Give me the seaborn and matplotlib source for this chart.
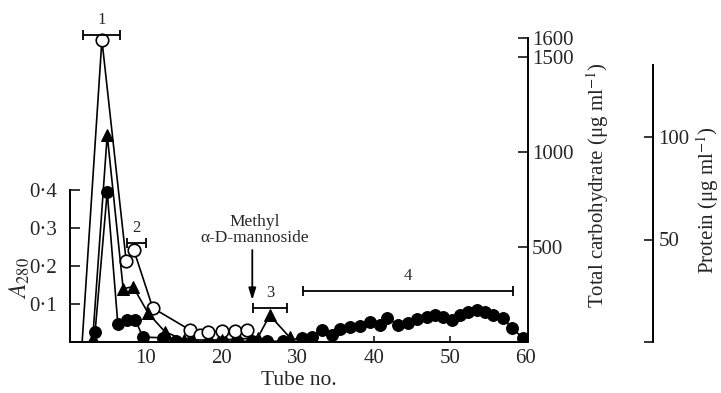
import matplotlib
matplotlib.use('Agg')
import matplotlib.pyplot as plt
import seaborn as sns
import pandas as pd

# ---------------- data ----------------
carb_tube = [1.6, 4.2, 7.4, 8.4, 10.9, 15.8, 17.1, 18.2, 20.0, 21.7, 23.3]
carb_val = [0, 1590, 426, 484, 179, 63, 37, 53, 58, 58, 63]

prot_tube = [3.0, 4.9, 7.0, 8.3, 10.3, 12.5, 15.0, 20.0, 24.7, 26.3, 28.9]
prot_val = [2, 101, 26, 27, 14, 5, 1, 1, 2, 13, 2.4]

a280_tube = [3.3, 4.9, 6.3, 7.5, 8.6, 9.6, 12.2, 14, 16, 18, 20, 22, 24, 26, 28,
             30.5, 31.8, 33.2, 34.5, 35.5, 36.8, 38.2, 39.5, 40.8, 41.8, 43.2,
             44.5, 45.7, 47.0, 48.0, 49.1, 50.3, 51.3, 52.4, 53.6, 54.6, 55.7,
             57.0, 58.2, 59.6]
a280_val = [0.026, 0.395, 0.047, 0.058, 0.058, 0.013, 0.011, 0.002, 0.002, 0.002,
            0.002, 0.002, 0.002, 0.002, 0.002,
            0.011, 0.013, 0.032, 0.018, 0.034, 0.039, 0.042, 0.053, 0.045, 0.063,
            0.045, 0.050, 0.061, 0.066, 0.071, 0.066, 0.058, 0.071, 0.079, 0.084,
            0.079, 0.071, 0.063, 0.037, 0.011]

x_ticks = [10, 20, 30, 40, 50, 60]
a280_ticks = [0.1, 0.2, 0.3, 0.4]
a280_labels = ['0·1', '0·2', '0·3', '0·4']
carb_ticks = [500, 1000, 1500, 1600]
carb_labels = ['500', '1000', '1500', '1600']
prot_ticks = [0, 50, 100]
prot_labels = ['', '50', '100']

# fraction bars: (start tube, end tube, height in carbohydrate units, label)
frac_start = [1.7, 7.5, 24.1, 30.7]
frac_end = [6.6, 10.0, 28.6, 58.3]
frac_height = [1616, 521, 179, 268]
frac_label = ['1', '2', '3', '4']

arrow_tube = 24.0
arrow_from, arrow_to = 484, 221

# ---------------- style ----------------
sns.set_style('white')
plt.rcParams['font.family'] = ['Liberation Serif', 'DejaVu Serif']
plt.rcParams['mathtext.fontset'] = 'stix'
plt.rcParams['axes.linewidth'] = 1.2

FS = 15
fig = plt.figure(figsize=(7.21, 3.93), dpi=100)
ax = fig.add_axes([70 / 721, 51 / 393, 458 / 721, 322 / 393])
ax.patch.set_alpha(0)
ax_c = ax.twinx()
ax_p = ax.twinx()

lw = 1.2
# A280 (filled circles)
df_a = pd.DataFrame({'tube': a280_tube, 'val': a280_val})
sns.lineplot(data=df_a, x='tube', y='val', ax=ax, sort=False, estimator=None,
             color='black', lw=lw, marker='o', markersize=8.5,
             markerfacecolor='black', markeredgecolor='black', zorder=3)
# protein (filled triangles)
df_p = pd.DataFrame({'tube': prot_tube, 'val': prot_val})
sns.lineplot(data=df_p, x='tube', y='val', ax=ax_p, sort=False, estimator=None,
             color='black', lw=lw, marker='^', markersize=8.5,
             markerfacecolor='black', markeredgecolor='black', zorder=3)
# carbohydrate (open circles)
df_c = pd.DataFrame({'tube': carb_tube, 'val': carb_val})
sns.lineplot(data=df_c, x='tube', y='val', ax=ax_c, sort=False, estimator=None,
             color='black', lw=lw, marker='o', markersize=9,
             markerfacecolor='white', markeredgecolor='black', markeredgewidth=1.2,
             markevery=list(range(1, len(carb_tube))), zorder=4)

for a in (ax, ax_c, ax_p):
    a.set_xlim(0, 60.3)
    if a.get_legend():
        a.get_legend().remove()

ax.set_ylim(0, 322 / 380)
ax_c.set_ylim(0, 322 / 0.19)
ax_p.set_ylim(0, 322 / 2.05)

# spines
for a in (ax, ax_c, ax_p):
    for s in a.spines.values():
        s.set_visible(False)
        s.set_linewidth(1.4)
        s.set_color('black')
ax.spines['left'].set_visible(True)
ax.spines['left'].set_bounds(0, 0.4)
ax.spines['bottom'].set_visible(True)
ax.spines['bottom'].set_bounds(0, 60.3)
ax_c.spines['right'].set_visible(True)
ax_c.spines['right'].set_bounds(0, 1600)
ax_p.spines['right'].set_visible(True)
ax_p.spines['right'].set_position(('axes', 583 / 458))
ax_p.spines['right'].set_bounds(0, 135)

# ticks
ax.set_xticks(x_ticks)
ax.set_xticklabels([str(t) for t in x_ticks])
ax.set_yticks(a280_ticks, a280_labels)
ax_c.set_yticks(carb_ticks, carb_labels)
ax_p.set_yticks(prot_ticks, prot_labels)
ax.tick_params(axis='x', direction='in', length=4.5, width=1.3, labelsize=FS, pad=5,
               bottom=True, top=False)
ax.tick_params(axis='y', direction='in', length=7.5, width=1.3, labelsize=FS, pad=9,
               left=True, right=False)
ax_c.tick_params(axis='y', direction='in', length=7.5, width=1.3, labelsize=FS, pad=3,
                 right=True, left=False)
ax_p.tick_params(axis='y', direction='in', length=6.5, width=1.3, labelsize=FS, pad=4,
                 right=True, left=False)
ax_c.tick_params(axis='x', bottom=False, top=False, labelbottom=False)
ax_p.tick_params(axis='x', bottom=False, top=False, labelbottom=False)

# labels
ax.set_xlabel('Tube no.', fontsize=FS + 0.5, labelpad=2)
ax.set_ylabel(r'$A_{280}$', fontsize=FS + 2)
ax.yaxis.set_label_coords(-50 / 458, (342 - 278) / 322)
ax.yaxis.label.set_va('center')
ax_c.set_ylabel('Total carbohydrate (μg ml$^{-1}$)', fontsize=FS)
ax_c.yaxis.set_label_coords((598 - 70) / 458, (342 - 185) / 322)
ax_c.yaxis.label.set_va('center')
ax_p.set_ylabel('Protein (μg ml$^{-1}$)', fontsize=FS)
ax_p.yaxis.set_label_coords((708 - 70) / 458, (342 - 200) / 322)
ax_p.yaxis.label.set_va('center')

# fraction bars
for x0, x1, h, lab in zip(frac_start, frac_end, frac_height, frac_label):
    ax_c.errorbar((x0 + x1) / 2, h, xerr=(x1 - x0) / 2, fmt='none', ecolor='black',
                  elinewidth=1.3, capsize=3.5, capthick=1.3, clip_on=False, zorder=5)
    ax_c.annotate(lab, xy=((x0 + x1) / 2, h), xytext=(0, 5), textcoords='offset points',
                  ha='center', va='bottom', fontsize=12, annotation_clip=False)

# methyl mannoside arrow
ax_c.annotate('', xy=(arrow_tube, arrow_to), xytext=(arrow_tube, arrow_from),
              arrowprops=dict(arrowstyle='-|>,head_length=0.7,head_width=0.22',
                              color='black', lw=1.3, shrinkA=0, shrinkB=0))
ax_c.text(arrow_tube + 0.3, arrow_from + 20, 'Methyl\nα-D-mannoside', ha='center',
          va='bottom', fontsize=12.5, linespacing=1.05)

fig.savefig('out.png', dpi=100)
